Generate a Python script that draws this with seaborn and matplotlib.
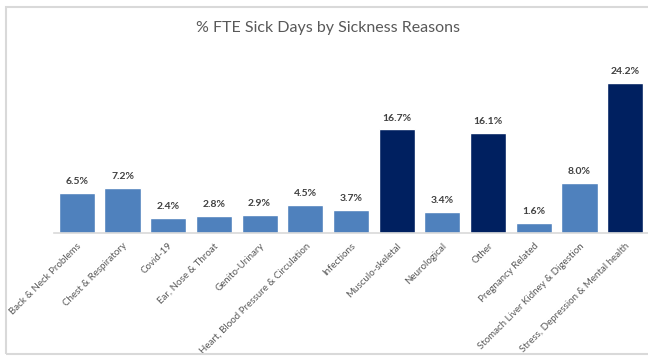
import matplotlib
matplotlib.use("Agg")
import matplotlib.pyplot as plt
from matplotlib.patches import Rectangle
import seaborn as sns
import pandas as pd

categories = [
    "Back & Neck Problems", "Chest & Respiratory", "Covid-19", "Ear, Nose & Throat",
    "Genito-Urinary", "Heart, Blood Pressure & Circulation", "Infections",
    "Musculo-skeletal", "Neurological", "Other", "Pregnancy Related",
    "Stomach Liver Kidney & Digestion", "Stress, Depression & Mental health",
]
values = [6.5, 7.2, 2.4, 2.8, 2.9, 4.5, 3.7, 16.7, 3.4, 16.1, 1.6, 8.0, 24.2]
value_labels = ["6.5%", "7.2%", "2.4%", "2.8%", "2.9%", "4.5%", "3.7%",
                "16.7%", "3.4%", "16.1%", "1.6%", "8.0%", "24.2%"]
title = "% FTE Sick Days by Sickness Reasons"

LIGHT = "#4F81BD"
DARK = "#002060"

sns.set_theme(style="white")
plt.rcParams["font.family"] = ["Lato", "DejaVu Sans"]

df = pd.DataFrame({"reason": categories, "pct": values})
palette = {c: (DARK if v >= 15 else LIGHT) for c, v in zip(categories, values)}

fig = plt.figure(figsize=(6.48, 3.56), dpi=100)
ax = fig.add_axes([0.0833, 0.3455, 0.9167, 0.4702])

sns.barplot(data=df, x="reason", y="pct", hue="reason", palette=palette,
            legend=False, width=0.79, saturation=1, ax=ax)

ax.set_xlim(-0.5, 12.5)
ax.set_ylim(0, 27)
ax.set_xlabel("")
ax.set_ylabel("")
ax.set_yticks([])
for side in ["left", "right", "top"]:
    ax.spines[side].set_visible(False)
ax.spines["bottom"].set_color("#d9d9d9")
ax.spines["bottom"].set_linewidth(1.2)

ax.tick_params(axis="x", length=0, pad=6)
ax.set_xticks(range(len(categories)))
ax.set_xticklabels(categories, rotation=45, ha="right", rotation_mode="anchor",
                   fontsize=7, color="#595959")

for i, (v, lab) in enumerate(zip(values, value_labels)):
    ax.annotate(lab, (i, v), xytext=(0, 5), textcoords="offset points",
                ha="center", va="bottom", fontsize=7.5, fontweight="bold",
                color="#404040")

fig.text(0.506, 0.921, title, ha="center", va="center", fontsize=11.5,
         color="#595959")

fig.patches.append(Rectangle((5.5 / 648, 1.8 / 356), 700 / 648, 347.5 / 356,
                             transform=fig.transFigure, fill=False,
                             edgecolor="#d9d9d9", linewidth=1.5))

fig.savefig("out.png", dpi=100)
